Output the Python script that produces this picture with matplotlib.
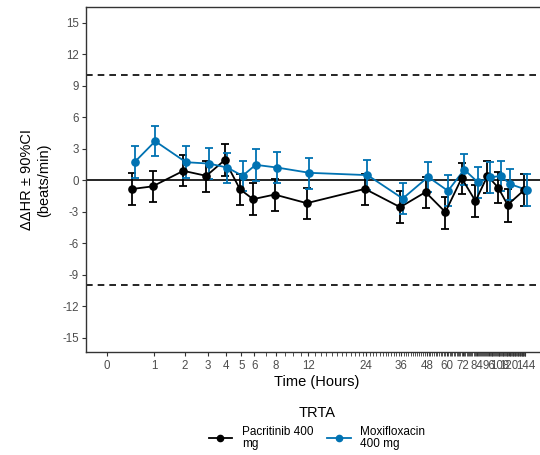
import numpy as np
import matplotlib
matplotlib.use("Agg")
import matplotlib.pyplot as plt
from matplotlib.transforms import ScaledTranslation
from matplotlib.lines import Line2D

plt.rcParams["font.family"] = ["Liberation Sans", "DejaVu Sans"]

# Nominal time points (hours)
times = [0.5, 1, 2, 3, 4, 5, 6, 8, 12, 24, 36, 48, 60, 72, 84, 96, 108, 120, 144]

# Pacritinib 400 mg: mean and 90% CI
pac_mean = [-0.85, -0.6, 0.88, 0.4, 1.9, -0.87, -1.82, -1.38, -2.2, -0.84,
            -2.58, -1.15, -3.05, 0.18, -2.0, 0.4, -0.71, -2.36, -0.96]
pac_hi = [0.68, 0.9, 2.4, 1.86, 3.42, 0.62, -0.3, 0.14, -0.71, 0.62,
          -1.06, 0.33, -1.57, 1.67, -0.5, 1.86, 0.75, -0.87, 0.62]
pac_lo = [-2.39, -2.08, -0.58, -1.1, 0.4, -2.39, -3.31, -2.9, -3.7, -2.36,
          -4.05, -2.68, -4.62, -1.3, -3.56, -1.19, -2.2, -3.95, -2.5]

# Moxifloxacin 400 mg: mean and 90% CI
mox_mean = [1.73, 3.7, 1.7, 1.57, 1.19, 0.4, 1.45, 1.19, 0.69, 0.47,
            -1.76, 0.3, -1.03, 1.0, -0.23, 0.25, 0.4, -0.39, -0.93]
mox_hi = [3.26, 5.19, 3.2, 3.04, 2.62, 1.83, 2.94, 2.69, 2.14, 1.92,
          -0.27, 1.73, 0.5, 2.47, 1.23, 1.75, 1.86, 1.1, 0.6]
mox_lo = [0.24, 2.27, 0.2, 0.09, -0.3, -1.06, -0.05, -0.3, -0.84, -0.98,
          -3.22, -1.15, -2.5, -0.5, -1.7, -1.25, -1.06, -1.9, -2.45]

x_breaks = [0, 1, 2, 3, 4, 5, 6, 8, 12, 24, 36, 48, 60, 72, 84, 96, 108, 120, 144]
y_breaks = list(range(-15, 16, 3))
ref_lines = [-10, 10]

series = [
    ("Pacritinib 400\nmg", pac_mean, pac_lo, pac_hi, "#000000", -1.3),
    ("Moxifloxacin\n400 mg", mox_mean, mox_lo, mox_hi, "#0072B2", 1.3),
]

C = 1.5


def fwd(x):
    return np.log((np.asarray(x, dtype=float) + C) / C)


def inv(y):
    return C * np.exp(np.asarray(y, dtype=float)) - C


fig = plt.figure(figsize=(5.4, 4.55), dpi=100)
ax = fig.add_axes([86.3 / 540, 1 - 352.3 / 455, (546.3 - 86.3) / 540, (352.3 - 7.3) / 455])
ax.set_xscale("function", functions=(fwd, inv))

handles = []
for label, m, lo, hi, col, dx in series:
    tr = ax.transData + ScaledTranslation(dx / 100, 0, fig.dpi_scale_trans)
    m = np.array(m)
    err = [m - np.array(lo), np.array(hi) - m]
    ax.errorbar(times, m, yerr=err, fmt="none", ecolor=col, elinewidth=1.3,
                capsize=3.2, capthick=1.3, transform=tr, zorder=3)
    ax.plot(times, m, "-", color=col, lw=1.3, transform=tr, zorder=4)
    ax.plot(times, m, "o", color=col, ms=5.2, transform=tr, zorder=5)
    handles.append(Line2D([], [], color=col, lw=1.3, marker="o", ms=4.5, label=label))

ax.axhline(0, color="black", lw=1.2, zorder=2)
for r in ref_lines:
    ax.axhline(r, color="black", lw=1.2, ls=(0, (4, 3)), zorder=2)

span = fwd(144)
ax.set_xlim(inv(-0.05 * span), inv(span * 1.05))
ax.set_ylim(-16.4, 16.45)

ax.set_xticks(x_breaks)
ax.set_xticklabels([str(v) for v in x_breaks])
ax.set_xticks(np.arange(0, 145, 1), minor=True)
ax.set_yticks(y_breaks)
ax.set_yticklabels([str(v) for v in y_breaks])

ax.tick_params(axis="both", which="both", direction="out", length=3, width=0.8,
               color="#333333", labelcolor="#4D4D4D", labelsize=8.3, pad=2.5)
ax.tick_params(axis="x", which="minor", length=3, width=0.6)

for s in ax.spines.values():
    s.set_color("#333333")
    s.set_linewidth(1.0)

ax.set_xlabel("Time (Hours)", fontsize=10.5, labelpad=2)
ax.set_ylabel("ΔΔHR ± 90%CI\n(beats/min)", fontsize=10.5, labelpad=8, linespacing=1.3)

leg = fig.legend(handles=handles, title="TRTA", loc="center", ncol=2,
                 bbox_to_anchor=(317 / 540, 1 - 428 / 455), frameon=False,
                 fontsize=8.5, title_fontsize=10.5, handlelength=2.0,
                 columnspacing=1.2, handletextpad=0.8, borderpad=0.2)
for t in leg.get_texts():
    t.set_linespacing(1.1)

fig.savefig("out.png", dpi=100)
